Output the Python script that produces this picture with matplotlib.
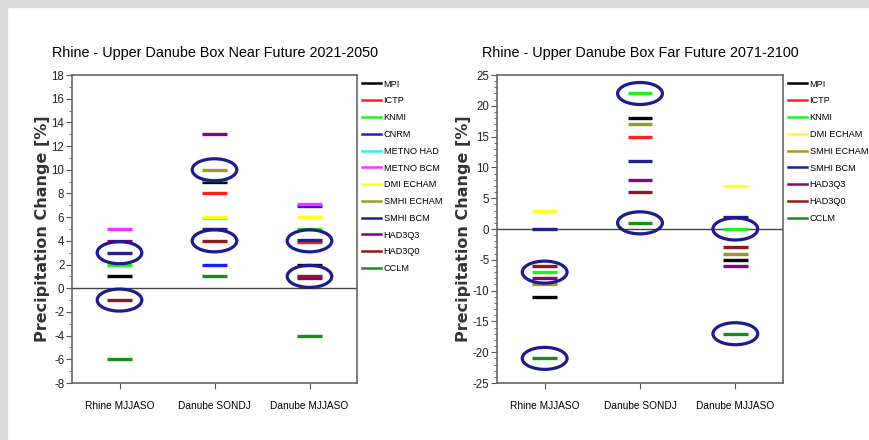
import numpy as np
import matplotlib
matplotlib.use("Agg")
import matplotlib.pyplot as plt
from matplotlib.lines import Line2D
from matplotlib.patches import Ellipse, Rectangle

plt.rcParams["axes.unicode_minus"] = False
nan = np.nan

# Categories (x axis)
categories = ["Rhine MJJASO", "Danube SONDJ", "Danube MJJASO"]

# Near future 2021-2050 : one value per category for each model
near_models = ["MPI", "ICTP", "KNMI", "CNRM", "METNO HAD", "METNO BCM",
               "DMI ECHAM", "SMHI ECHAM", "SMHI BCM", "HAD3Q3", "HAD3Q0", "CCLM"]
near_mpi = [1, 9, 2]
near_ictp = [nan, 8, 3.9]
near_knmi = [2, 9.1, 5]
near_cnrm = [nan, 2, 6.9]
near_metno_had = [nan, 5.9, nan]
near_metno_bcm = [5, nan, 7.1]
near_dmi_echam = [nan, 6, 6]
near_smhi_echam = [nan, 10, nan]
near_smhi_bcm = [3, 5, 4.1]
near_had3q3 = [4, 13, 0.9]
near_had3q0 = [-1, 4, 1]
near_cclm = [-6, 1, -4]
near_circled = [(0, 3), (0, -1), (1, 10), (1, 4), (2, 4), (2, 1)]

# Far future 2071-2100
far_models = ["MPI", "ICTP", "KNMI", "DMI ECHAM", "SMHI ECHAM", "SMHI BCM",
              "HAD3Q3", "HAD3Q0", "CCLM"]
far_mpi = [-11, 18, -5]
far_ictp = [nan, 15, nan]
far_knmi = [-7, 22, 0]
far_dmi_echam = [3, nan, 7]
far_smhi_echam = [-9, 17, -4]
far_smhi_bcm = [0, 11, 2]
far_had3q3 = [-8, 8, -6]
far_had3q0 = [-6, 6, -3]
far_cclm = [-21, 1, -17]
far_circled = [(0, -7), (0, -21), (1, 22), (1, 1), (2, 0), (2, -17)]

colors = {
    "MPI": "#000000", "ICTP": "#ff2020", "KNMI": "#22f022", "CNRM": "#1a1aff",
    "METNO HAD": "#30f0f0", "METNO BCM": "#ff30ff", "DMI ECHAM": "#ffff20",
    "SMHI ECHAM": "#9a9a20", "SMHI BCM": "#20208c", "HAD3Q3": "#880088",
    "HAD3Q0": "#8c1a1a", "CCLM": "#1a8c1a",
}

near_values = [near_mpi, near_ictp, near_knmi, near_cnrm, near_metno_had, near_metno_bcm,
               near_dmi_echam, near_smhi_echam, near_smhi_bcm, near_had3q3, near_had3q0, near_cclm]
far_values = [far_mpi, far_ictp, far_knmi, far_dmi_echam, far_smhi_echam, far_smhi_bcm,
              far_had3q3, far_had3q0, far_cclm]

FONT = ["Liberation Sans", "DejaVu Sans"]


def draw_panel(ax, title, models, values, circled, ylim, ystep, yminor, label_x):
    x = np.arange(1, len(categories) + 1)
    hw = 0.13
    for name, vals in zip(models, values):
        vals = np.array(vals, dtype=float)
        ok = ~np.isnan(vals)
        ax.hlines(vals[ok], x[ok] - hw, x[ok] + hw, colors=colors[name], lw=2.4, zorder=3)

    ax.axhline(0, color="#444444", lw=1.0, zorder=2)

    # blue ellipses around the highlighted values
    span = ylim[1] - ylim[0]
    for ci, val in circled:
        ax.add_patch(Ellipse((x[ci], val), 0.47, span * 22 / 308, fill=False,
                             ec="#1c1c8a", lw=2.3, zorder=4))

    ax.set_xlim(0.5, 3.5)
    ax.set_ylim(*ylim)
    ax.set_yticks(np.arange(ylim[0], ylim[1] + 0.1, ystep))
    ax.set_yticks(np.arange(ylim[0], ylim[1] + 0.1, yminor), minor=True)
    ax.set_xticks(x)
    ax.set_xticklabels(categories, fontsize=7.3, family=FONT)
    for lab in ax.get_yticklabels():
        lab.set_family(FONT)
        lab.set_fontsize(8.3)
        lab.set_color("#222222")
    ax.tick_params(axis="y", which="major", direction="out", length=4, color="#555555", pad=1.5)
    ax.tick_params(axis="y", which="minor", direction="out", length=2, color="#555555")
    ax.tick_params(axis="x", direction="out", length=4, color="#555555", pad=9)
    for sp in ax.spines.values():
        sp.set_color("#666666")
        sp.set_linewidth(1.2)

    ax.set_title(title, fontsize=10.4, family=FONT, pad=13)
    ax.set_ylabel("Precipitation Change [%]", fontsize=11.5, fontweight="bold",
                  color="#333333")
    ax.yaxis.set_label_coords(label_x, 0.5)

    handles = [Line2D([], [], color=colors[m], lw=1.8) for m in models]
    ax.legend(handles, models, loc="upper left", bbox_to_anchor=(1.0, 1.0),
              frameon=False, prop={"family": FONT, "size": 6.6},
              handlelength=2.1, handletextpad=0.3, labelspacing=0.85,
              borderaxespad=0.0, borderpad=0.5)


fig = plt.figure(figsize=(8.69, 4.40), dpi=100)
fig.patch.set_facecolor("white")
# grey frame of the screenshot (top and left)
fig.add_artist(Rectangle((0, 433 / 440), 1, 7 / 440, transform=fig.transFigure,
                         color="#dcdcdc", zorder=0))
fig.add_artist(Rectangle((0, 0), 7 / 869, 1, transform=fig.transFigure,
                         color="#dcdcdc", zorder=0))

ax1 = fig.add_axes([72 / 869, 57 / 440, 285 / 869, 308 / 440])
ax2 = fig.add_axes([497 / 869, 57 / 440, 286 / 869, 308 / 440])

draw_panel(ax1, "Rhine - Upper Danube Box Near Future 2021-2050",
           near_models, near_values, near_circled, (-8, 18), 2, 1, -0.076)
draw_panel(ax2, "Rhine - Upper Danube Box Far Future 2071-2100",
           far_models, far_values, far_circled, (-25, 25), 5, 1, -0.09)

fig.savefig("out.png", dpi=100)
